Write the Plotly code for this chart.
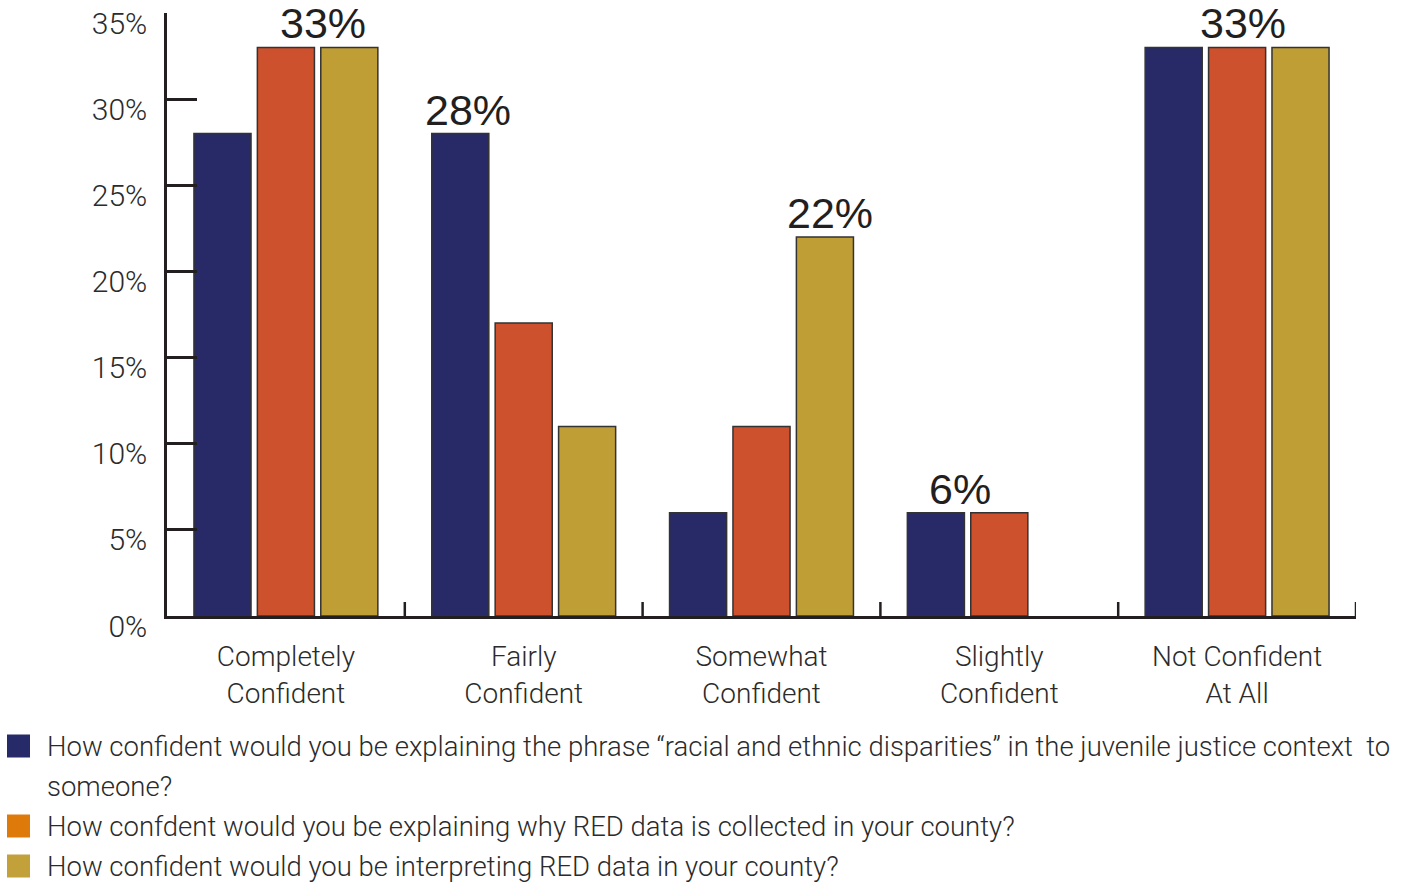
import plotly.graph_objects as go

categories = ["Completely Confident", "Fairly Confident", "Somewhat Confident",
              "Slightly Confident", "Not Confident At All"]
category_ticktext = ["Completely<br>Confident", "Fairly<br>Confident", "Somewhat<br>Confident",
                     "Slightly<br>Confident", "Not Confident<br>At All"]
series_names = [
    "How confident would you be explaining the phrase “racial and ethnic disparities” in the juvenile justice context  to\nsomeone?",
    "How confdent would you be explaining why RED data is collected in your county?",
    "How confident would you be interpreting RED data in your county?",
]
explain_phrase = [28, 28, 6, 6, 33]
explain_why_red = [33, 17, 11, 6, 33]
interpret_red = [33, 11, 22, 0, 33]
series_values = [explain_phrase, explain_why_red, interpret_red]

# value callouts: one label per category (the top value shown)
callout_values = [33, 28, 22, 6, 33]
callout_xshift = [37, -56, 68, -39, 6]

y_tickvals = [0, 5, 10, 15, 20, 25, 30, 35]
y_ticktext = ["0%", "5%", "10%", "15%", "20%", "25%", "30%", "35%"]

bar_colors = ["#272a67", "#cd512d", "#bf9e36"]
legend_colors = ["#262a68", "#de7a0a", "#c2a03a"]

FONT = "Roboto"
TXT = "#2b2b2b"

W, H = 1408, 882
L, R, T, B = 167, 52, 13, 266
PW = W - L - R
PH = H - T - B

fig = go.Figure()
for name, vals, col in zip(series_names, series_values, bar_colors):
    fig.add_trace(go.Bar(
        x=categories, y=vals, name=name.replace("\n", " "),
        marker=dict(color=col,
                    line=dict(color="#333333", width=[1.5 if v > 0 else 0 for v in vals])),
        showlegend=False, hoverinfo="y",
    ))

for cat, v, xs in zip(categories, callout_values, callout_xshift):
    fig.add_annotation(x=cat, y=v, text=f"{v}%", showarrow=False,
                       xanchor="center", yanchor="bottom", xshift=xs, yshift=-2,
                       font=dict(family="Liberation Sans", size=43, color="#231f20"))

# x-axis boundary ticks (between categories)
for i in range(len(categories)):
    fig.add_shape(type="line", xref="x", yref="paper", x0=i + 0.5, x1=i + 0.5,
                  y0=0, y1=14 / PH, line=dict(color="#231f20", width=2.5))


def px_x(p):
    return (p - L) / PW


def px_y(p):
    return (H - B - p) / PH


# manual legend
line_y = 746
for name, col in zip(series_names, legend_colors):
    lines = name.split("\n")
    fig.add_shape(type="rect", xref="paper", yref="paper",
                  x0=px_x(7), x1=px_x(30), y0=px_y(line_y + 11.5), y1=px_y(line_y - 11.5),
                  fillcolor=col, line=dict(width=0))
    for ln in lines:
        fig.add_annotation(xref="paper", yref="paper", x=px_x(45), y=px_y(line_y),
                           text=ln, showarrow=False, xanchor="left", yanchor="middle",
                           font=dict(family=FONT, size=27.5, color=TXT, weight=300))
        line_y += 40

fig.update_layout(
    width=W, height=H,
    margin=dict(l=L, r=R, t=T, b=B),
    paper_bgcolor="white", plot_bgcolor="white",
    barmode="group", bargap=0.2, bargroupgap=0.1,
    showlegend=False,
    font=dict(family=FONT, color=TXT),
)
fig.update_xaxes(
    tickvals=list(range(len(categories))), ticktext=category_ticktext,
    range=[-0.5, len(categories) - 0.5], automargin=False,
    showline=True, linecolor="#231f20", linewidth=2.5,
    ticks="", showgrid=False, zeroline=False, ticklabelstandoff=14,
    tickfont=dict(family=FONT, size=28, color=TXT, weight=300),
)
fig.update_yaxes(
    range=[0, 35], tickvals=y_tickvals, ticktext=y_ticktext, automargin=False,
    showline=True, linecolor="#231f20", linewidth=2.5,
    ticks="inside", ticklen=30, tickwidth=2.5, tickcolor="#231f20",
    showgrid=False, zeroline=False, ticklabelstandoff=11, ticklabelshift=10,
    tickfont=dict(family=FONT, size=30, color=TXT, weight=300),
)

fig.write_html("out.html", config={"displayModeBar": False},
               post_script="document.body.style.margin='0';")
